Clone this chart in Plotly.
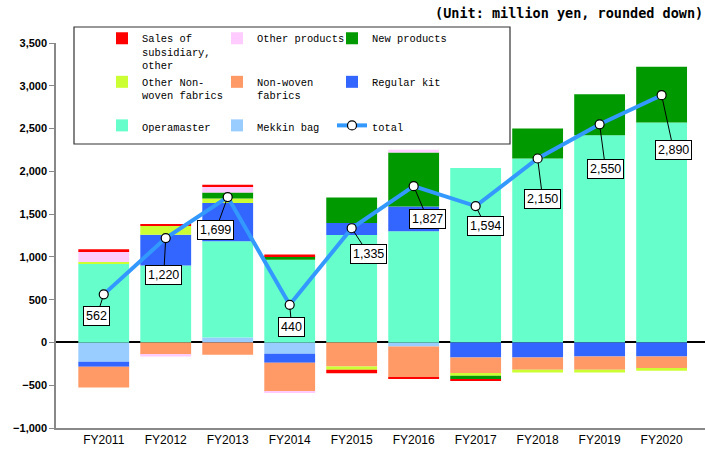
import plotly.graph_objects as go

years = ["FY2011", "FY2012", "FY2013", "FY2014", "FY2015",
         "FY2016", "FY2017", "FY2018", "FY2019", "FY2020"]

# stacked series (million yen), in stacking order from the zero line outward
mekkin_bag      = [-226, 0, 59, -132, 0, -47, 0, 0, 0, 0]
operamaster     = [919, 899, 1125, 966, 1255, 1301, 2038, 2149, 2422, 2570]
regular_kit     = [-59, 360, 445, -105, 140, 289, -175, -175, -164, -164]
non_woven       = [-243, -141, -144, -336, -281, -358, -183, -144, -156, -144]
other_non_woven = [20, 102, 54, 0, -39, -8, -31, -31, -31, -23]
new_products    = [0, 0, 70, 42, 300, 631, -39, 351, 479, 651]
other_products  = [128, -23, 67, -15, 0, 31, 0, 0, 0, 0]
sales_subsidiary = [23, 23, 23, 20, -40, -12, -16, 0, 0, 0]

total = [562, 1220, 1699, 440, 1335, 1827, 1594, 2150, 2550, 2890]
total_labels = ["562", "1,220", "1,699", "440", "1,335", "1,827", "1,594", "2,150", "2,550", "2,890"]

# callout label offsets in pixels (style/position only)
label_dx = [-7, -2, -12, 2, 17, 14, 10, 5, 6, 12]
label_dy = [22, 37, 33, 22, 26, 33, 20, 40, 45, 55]

W, H = 705, 455
ML, MR, MT, MB = 56, 0, 43, 27
PW, PH = W - ML - MR, H - MT - MB


def px_x(p):
    return (p - ML) / PW


def px_y(p):
    return (H - MB - p) / PH


series = [
    ("Mekkin bag", mekkin_bag, "#99CCFF", "legend2", 3),
    ("Operamaster", operamaster, "#66FFCC", "legend", 3),
    ("Regular kit<br>\u00a0<br>\u00a0", regular_kit, "#3366FF", "legend3", 2),
    ("Non-woven<br>fabrics<br>\u00a0", non_woven, "#FF9966", "legend2", 2),
    ("Other Non-<br>woven fabrics<br>\u00a0", other_non_woven, "#CCFF33", "legend", 2),
    ("New products<br>\u00a0<br>\u00a0", new_products, "#009900", "legend3", 1),
    ("Other products<br>\u00a0<br>\u00a0", other_products, "#FFCCFF", "legend2", 1),
    ("Sales of<br>subsidiary,<br>other", sales_subsidiary, "#FF0000", "legend", 1),
]

fig = go.Figure()
for name, vals, color, lg, rank in series:
    fig.add_trace(go.Bar(
        x=years, y=vals, name=name, marker=dict(color=color, line=dict(width=0)),
        legend=lg, legendrank=rank, hoverinfo="skip",
    ))

fig.add_trace(go.Scatter(
    x=years, y=total, name="total", mode="lines+markers",
    line=dict(color="#3399FF", width=4),
    marker=dict(color="white", size=9, line=dict(color="black", width=1.2)),
    legend="legend3", legendrank=3,
))

for i, (yr, v, lab) in enumerate(zip(years, total, total_labels)):
    fig.add_annotation(
        x=yr, y=v, text=lab, showarrow=True, ax=label_dx[i], ay=label_dy[i],
        arrowhead=0, arrowwidth=1, arrowcolor="black", standoff=4,
        bgcolor="white", bordercolor="black", borderwidth=1, borderpad=2,
        font=dict(family="Liberation Sans, Arial", size=12.5, color="black"),
    )

fig.add_annotation(
    xref="paper", yref="paper", x=1, y=px_y(13), xanchor="right", yanchor="middle",
    text="<b>(Unit: million yen, rounded down)</b>", showarrow=False,
    font=dict(family="DejaVu Sans Mono", size=13.5, color="black"),
)

# legend frame
fig.add_shape(type="rect", xref="paper", yref="paper",
              x0=px_x(74), x1=px_x(510), y0=px_y(144), y1=px_y(27),
              line=dict(color="#333333", width=1.2), fillcolor="rgba(0,0,0,0)")

leg_font = dict(family="Liberation Mono", size=10.4, color="black")
leg_common = dict(orientation="v", traceorder="normal", valign="top",
                  bgcolor="rgba(0,0,0,0)", borderwidth=0, font=leg_font,
                  xanchor="left", yanchor="top", tracegroupgap=0)

fig.update_layout(
    width=W, height=H,
    margin=dict(l=ML, r=MR, t=MT, b=MB, autoexpand=False),
    barmode="relative", bargap=0.18,
    plot_bgcolor="white", paper_bgcolor="white",
    showlegend=True,
    legend=dict(x=px_x(102), y=px_y(25), **leg_common),
    legend2=dict(x=px_x(217), y=px_y(25), **leg_common),
    legend3=dict(x=px_x(332), y=px_y(25), **leg_common),
    xaxis=dict(range=[-0.77, 9.7], showline=True, linecolor="#888888", linewidth=2,
               ticks="", showgrid=False, zeroline=False,
               tickfont=dict(family="Liberation Sans, Arial", size=12, color="black")),
    yaxis=dict(range=[-1000, 3500], dtick=500, tickformat=",", showline=True,
               linecolor="#888888", linewidth=1.5, ticks="outside", ticklen=5,
               tickcolor="#888888", showgrid=False, zeroline=True,
               zerolinecolor="black", zerolinewidth=1.5,
               tickfont=dict(family="Liberation Sans, Arial", size=11, color="black",
                             weight="bold")),
)

fig.write_html("out.html")
